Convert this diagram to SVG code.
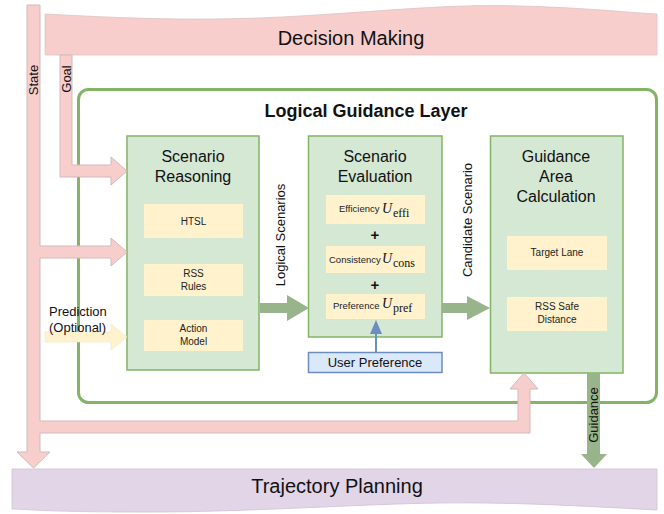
<svg xmlns="http://www.w3.org/2000/svg" width="664" height="514" viewBox="0 0 664 514">
  <style>
    text { font-family: "Liberation Sans", Arial, Helvetica, sans-serif; fill: #111; }
    .banner { font-size: 20px; text-anchor: middle; }
    .title { font-size: 16px; text-anchor: middle; }
    .sub { font-size: 10px; text-anchor: middle; fill: #222; }
    .lbl { font-size: 13px; text-anchor: middle; }
    .left { text-anchor: start; }
    .module { fill: #d5e8d4; stroke: #82b366; stroke-width: 1.5; }
    .item { fill: #fff2cc; }
    .pink { fill: #f8cecc; stroke: #d2b9b9; stroke-width: 1; stroke-linejoin: miter; }
    .green { fill: #98b48b; stroke: none; }
    .math { font-family: "Liberation Serif", "Times New Roman", serif; fill: #111; }
    .small { font-size: 9.5px; fill: #222; }
  </style>

  <!-- Top banner -->
  <g id="decision-making">
    <path d="M45,14 C120,18 200,22 300,16 S450,4 520,6 S620,12 657,14 L657,55 L45,55 Z" fill="#f8cecc" stroke="#dcc4c4" stroke-width="0.8"/>
    <text class="banner" x="351" y="45">Decision Making</text>
  </g>

  <!-- Bottom banner -->
  <g id="trajectory-planning">
    <path d="M12,469 L657,469 L657,510 C600,507 520,502 440,503 S250,512 150,512 S40,510 12,509 Z" fill="#e1d5e7" stroke="#cdc3d2" stroke-width="0.8"/>
    <text class="banner" x="337" y="493">Trajectory Planning</text>
  </g>

  <!-- Container layer -->
  <g id="logical-guidance-layer">
    <rect x="78.5" y="89.5" width="578" height="313" rx="10" fill="none" stroke="#82b366" stroke-width="3"/>
    <text x="366" y="117" style="font-size:18px;font-weight:bold;text-anchor:middle">Logical Guidance Layer</text>
  </g>

  <g id="scenario-reasoning">
    <rect class="module" x="127" y="136" width="132" height="234"/>
    <text class="title" x="193" y="162">Scenario</text>
    <text class="title" x="193" y="182">Reasoning</text>
    <rect class="item" x="144" y="204" width="99" height="34"/>
    <text class="sub" x="193.5" y="225">HTSL</text>
    <rect class="item" x="144" y="264" width="99" height="32"/>
    <text class="sub" x="193.5" y="277">RSS</text>
    <text class="sub" x="193.5" y="290">Rules</text>
    <rect class="item" x="144" y="320" width="99" height="31"/>
    <text class="sub" x="193.5" y="332">Action</text>
    <text class="sub" x="193.5" y="345">Model</text>
  </g>

  <g id="scenario-evaluation">
    <rect class="module" x="308.5" y="136" width="133.5" height="201"/>
    <text class="title" x="375" y="162">Scenario</text>
    <text class="title" x="375" y="182">Evaluation</text>
    <rect class="item" x="326" y="195" width="99" height="29"/>
    <text x="339" y="212" class="small">Efficiency</text>
    <text x="382" y="213" class="math" style="font-size:14px;font-style:italic">U</text>
    <text x="393" y="217" class="math" style="font-size:12px">effi</text>
    <text x="375" y="240" style="font-size:15px;font-weight:bold;text-anchor:middle">+</text>
    <rect class="item" x="326" y="246" width="99" height="27"/>
    <text x="329" y="263" class="small">Consistency</text>
    <text x="382" y="263" class="math" style="font-size:14px;font-style:italic">U</text>
    <text x="393" y="267" class="math" style="font-size:12px">cons</text>
    <text x="375" y="290" style="font-size:15px;font-weight:bold;text-anchor:middle">+</text>
    <rect class="item" x="326" y="294" width="99" height="25"/>
    <text x="333" y="309" class="small">Preference</text>
    <text x="382" y="308" class="math" style="font-size:14px;font-style:italic">U</text>
    <text x="393" y="312" class="math" style="font-size:12px">pref</text>
  </g>

  <g id="user-preference">
    <rect x="308.5" y="352.5" width="133.5" height="20" fill="#dae8fc" stroke="#6c8ebf" stroke-width="1.5"/>
    <text class="lbl" x="375" y="367">User Preference</text>
  </g>

  <g id="guidance-area-calculation">
    <rect class="module" x="490.5" y="136" width="132.5" height="237"/>
    <text class="title" x="556" y="162">Guidance</text>
    <text class="title" x="556" y="182">Area</text>
    <text class="title" x="556" y="202">Calculation</text>
    <rect class="item" x="507" y="236" width="100" height="34"/>
    <text class="sub" x="557" y="256">Target Lane</text>
    <rect class="item" x="507" y="297" width="100" height="34"/>
    <text class="sub" x="557" y="310">RSS Safe</text>
    <text class="sub" x="557" y="323">Distance</text>
  </g>

  <!-- Connectors -->
  <g id="connectors">
    <!-- state: down to trajectory planning, branches to reasoning and guidance area -->
    <polygon class="pink" points="27,5 40,5 40,246 111,246 111,238 127,252 111,266 111,258 40,258 40,421 518,421 518,389 510,389 524,373 538,389 530,389 530,433 40,433 40,452 50,452 33.5,468 17,452 27,452"/>
    <!-- goal -->
    <polygon class="pink" points="60,55 72,55 72,165 111,165 111,157 127,171 111,185 111,177 60,177"/>
    <!-- prediction -->
    <polygon points="45,332 111,332 111,324 127,337 111,350 111,342 45,342" fill="#fff2cc" stroke="#f1e6c8" stroke-width="0.6"/>
    <!-- logical scenarios -->
    <polygon class="green" points="260,303 287,303 287,295 309,308 287,321 287,313 260,313"/>
    <!-- candidate scenario -->
    <polygon class="green" points="442,303 467,303 467,296 490,308 467,320 467,313 442,313"/>
    <!-- guidance -->
    <polygon class="green" points="587,373 600,373 600,454 607,454 594,468 581,454 587,454"/>
    <!-- user preference -->
    <line x1="376" y1="352" x2="376" y2="333" stroke="#6c8ebf" stroke-width="2"/>
    <polygon points="370,334 382,334 376,320" fill="#6c8ebf"/>

    <text class="lbl" transform="translate(38,80) rotate(-90)">State</text>
    <text class="lbl" transform="translate(71,79) rotate(-90)">Goal</text>
    <text class="lbl left" x="49" y="316">Prediction</text>
    <text class="lbl left" x="49" y="332">(Optional)</text>
    <text class="lbl" transform="translate(285,235) rotate(-90)">Logical Scenarios</text>
    <text class="lbl" transform="translate(472,220) rotate(-90)">Candidate Scenario</text>
    <text class="lbl" transform="translate(598,415) rotate(-90)">Guidance</text>
  </g>
</svg>
